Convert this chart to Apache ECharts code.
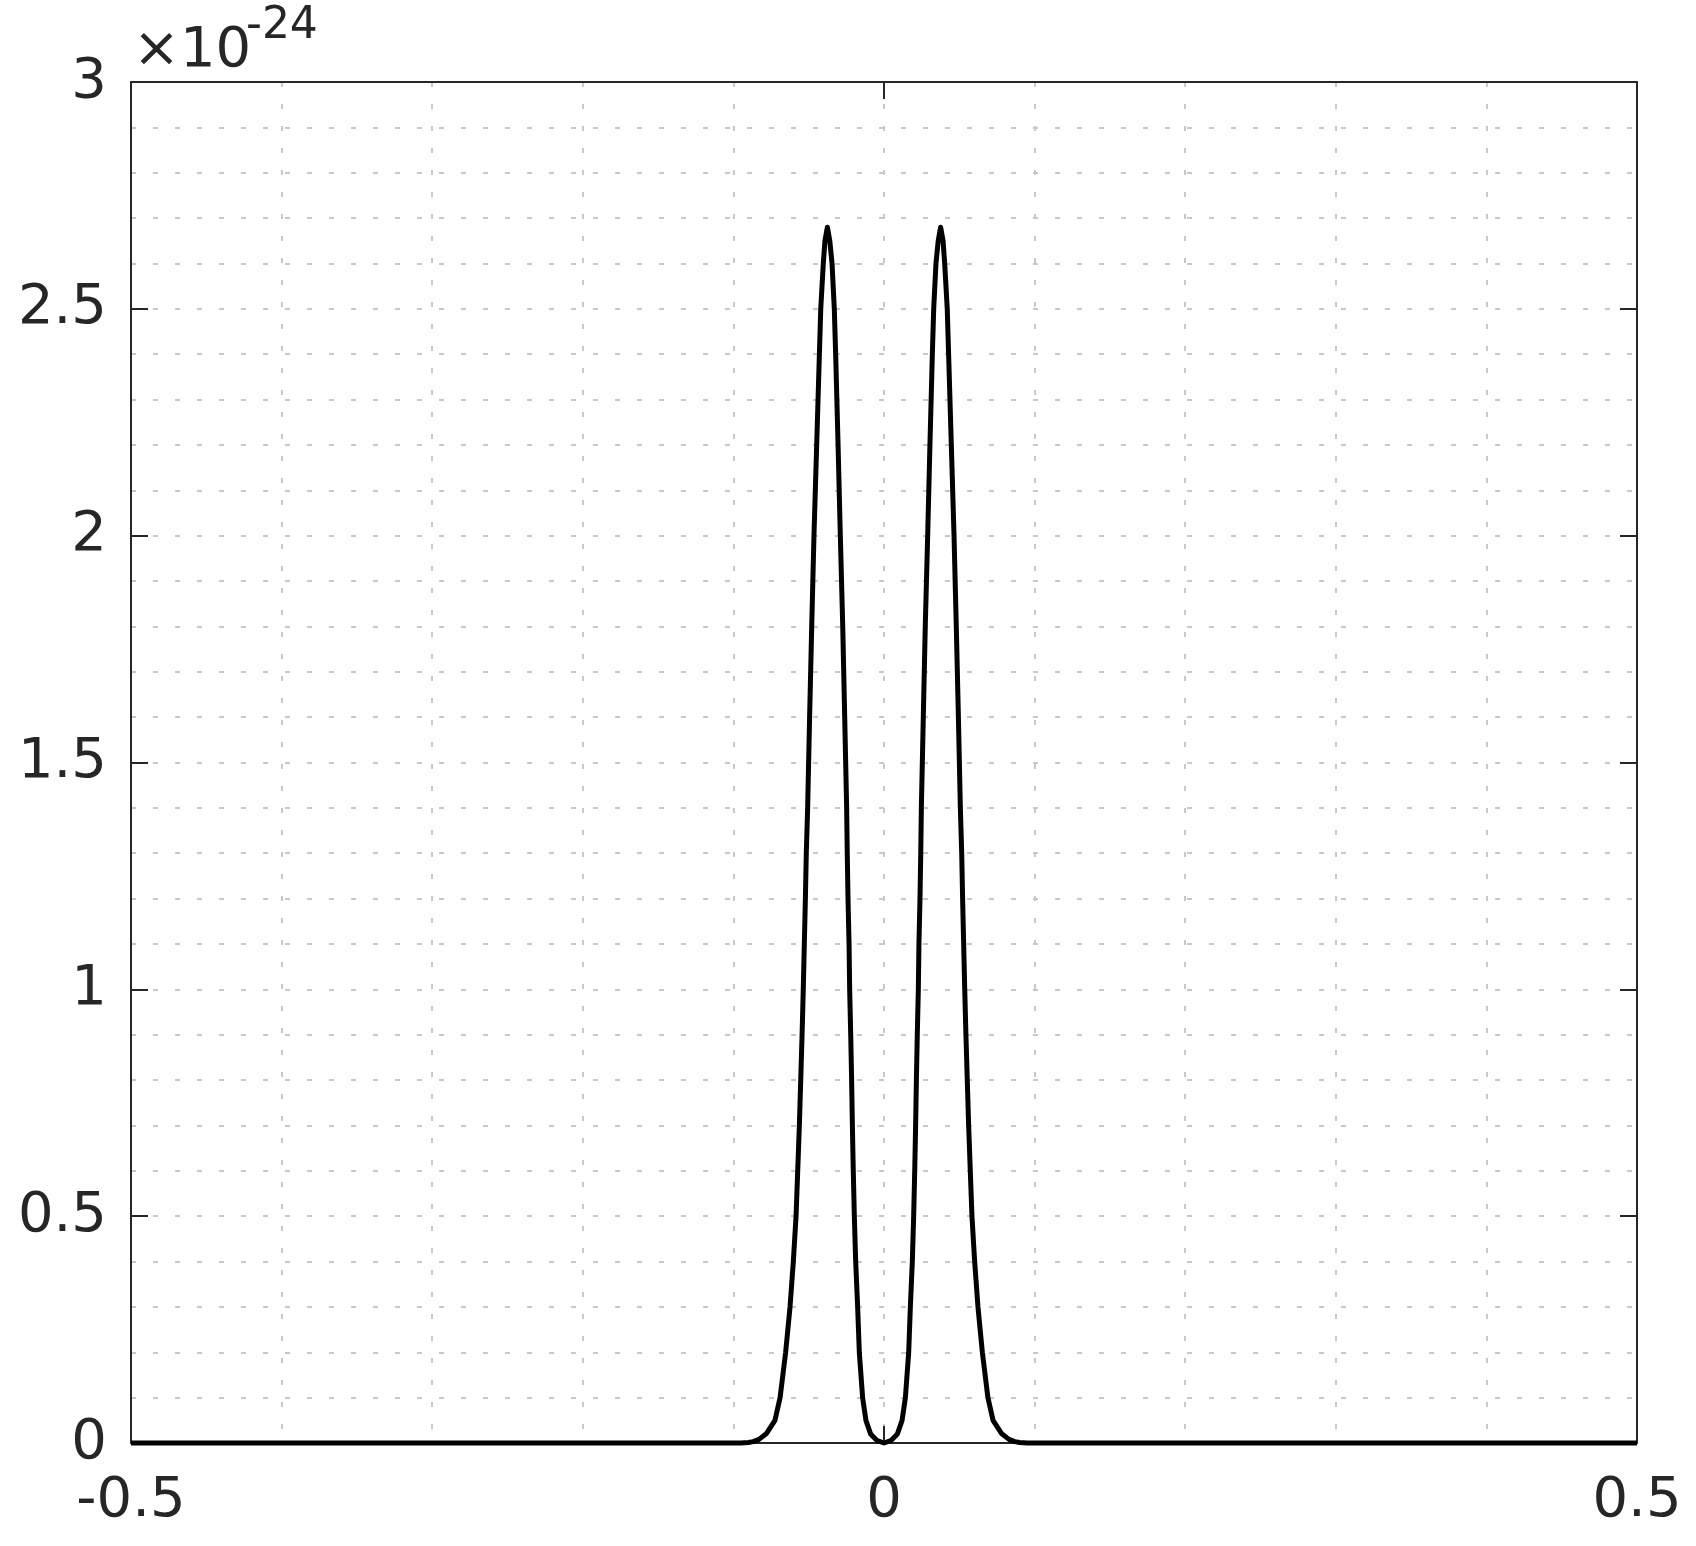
<!DOCTYPE html>
<html>
<head>
<meta charset="utf-8">
<script src="https://cdn.jsdelivr.net/npm/echarts@6/dist/echarts.min.js"></script>
<style>
  html, body { margin: 0; padding: 0; background: #fff; }
  #chart { width: 1696px; height: 1546px; }
</style>
</head>
<body>
<div id="chart"></div>
<script>
// curve, y in units of 1e-24
var curveX = [
  -0.5, -0.095, -0.09, -0.0868, -0.083, -0.078, -0.0724, -0.069, -0.0653, -0.0624, -0.0602,
  -0.0584, -0.0573, -0.0562, -0.0553, -0.0544, -0.0536, -0.0529, -0.0522, -0.0516,
  -0.0507, -0.0494, -0.048, -0.0465, -0.0447, -0.0429, -0.042, -0.0403, -0.0392,
  -0.0376,
  -0.036, -0.0345, -0.033, -0.0321, -0.0305, -0.029, -0.0274, -0.0261, -0.0248,
  -0.0244, -0.0239, -0.0232, -0.0228, -0.0221, -0.0215, -0.021, -0.0204, -0.0197,
  -0.0188, -0.0175, -0.0164, -0.0142, -0.012, -0.0089, -0.0045,
  0,
  0.0045, 0.0089, 0.012, 0.0142, 0.0164, 0.0175, 0.0188,
  0.0197, 0.0204, 0.021, 0.0215, 0.0221, 0.0228, 0.0232, 0.0239, 0.0244,
  0.0248, 0.0261, 0.0274, 0.029, 0.0305, 0.0321, 0.033, 0.0345, 0.036,
  0.0376,
  0.0392, 0.0403, 0.042, 0.0429, 0.0447, 0.0465, 0.048, 0.0494, 0.0507,
  0.0516, 0.0522, 0.0529, 0.0536, 0.0544, 0.0553, 0.0562, 0.0573, 0.0584,
  0.0602, 0.0624, 0.0653, 0.069, 0.0724, 0.078, 0.083, 0.0868, 0.09, 0.095, 0.5
];
var curveY = [
  0, 0, 0.001, 0.003, 0.008, 0.021, 0.05, 0.1, 0.2, 0.3, 0.4,
  0.5, 0.6, 0.7, 0.8, 0.9, 1.0, 1.1, 1.2, 1.3,
  1.4, 1.6, 1.8, 2.0, 2.2, 2.4, 2.5, 2.6, 2.65,
  2.68,
  2.65, 2.6, 2.5, 2.4, 2.2, 2.0, 1.8, 1.6, 1.4,
  1.3, 1.2, 1.1, 1.0, 0.9, 0.8, 0.7, 0.6, 0.5,
  0.4, 0.3, 0.2, 0.1, 0.05, 0.02, 0.005,
  0,
  0.005, 0.02, 0.05, 0.1, 0.2, 0.3, 0.4,
  0.5, 0.6, 0.7, 0.8, 0.9, 1.0, 1.1, 1.2, 1.3,
  1.4, 1.6, 1.8, 2.0, 2.2, 2.4, 2.5, 2.6, 2.65,
  2.68,
  2.65, 2.6, 2.5, 2.4, 2.2, 2.0, 1.8, 1.6, 1.4,
  1.3, 1.2, 1.1, 1.0, 0.9, 0.8, 0.7, 0.6, 0.5,
  0.4, 0.3, 0.2, 0.1, 0.05, 0.021, 0.008, 0.003, 0.001, 0, 0
];
var xRange = [-0.5, 0.5];
var yRange = [0, 3];
var exponentText = "-24";

var curveData = curveX.map(function (x, i) {
  return [x, curveY[i]];
});

var axisColor = "#262626";
var gridStyle = { color: "#c8c8c8", width: 2, type: [5, 17] };
var font = "DejaVu Sans";

var chart = echarts.init(document.getElementById("chart"));
chart.setOption({
  animation: false,
  backgroundColor: "#fff",
  grid: { left: 131, top: 82, width: 1506, height: 1361 },
  xAxis: [
    {
      type: "value",
      min: xRange[0], max: xRange[1], interval: 0.5,
      axisLine: { show: true, onZero: false, lineStyle: { color: axisColor, width: 2 } },
      axisTick: { show: true, inside: true, length: 17, lineStyle: { color: axisColor, width: 2 } },
      axisLabel: { color: axisColor, fontSize: 56, fontFamily: font, margin: 30 },
      splitLine: { show: true, lineStyle: gridStyle },
      minorTick: { show: false, splitNumber: 5 },
      minorSplitLine: { show: true, lineStyle: gridStyle }
    },
    {
      type: "value", position: "top",
      min: xRange[0], max: xRange[1], interval: 0.5,
      axisLine: { show: true, onZero: false, lineStyle: { color: axisColor, width: 2 } },
      axisTick: { show: true, inside: true, length: 17, lineStyle: { color: axisColor, width: 2 } },
      axisLabel: { show: false },
      splitLine: { show: false }
    }
  ],
  yAxis: [
    {
      type: "value",
      min: yRange[0], max: yRange[1], interval: 0.5,
      axisLine: { show: true, onZero: false, lineStyle: { color: axisColor, width: 2 } },
      axisTick: { show: true, inside: true, length: 17, lineStyle: { color: axisColor, width: 2 } },
      axisLabel: { color: axisColor, fontSize: 56, fontFamily: font, margin: 24 },
      splitLine: { show: true, lineStyle: gridStyle },
      minorTick: { show: false, splitNumber: 5 },
      minorSplitLine: { show: true, lineStyle: gridStyle }
    },
    {
      type: "value", position: "right",
      min: yRange[0], max: yRange[1], interval: 0.5,
      axisLine: { show: true, onZero: false, lineStyle: { color: axisColor, width: 2 } },
      axisTick: { show: true, inside: true, length: 17, lineStyle: { color: axisColor, width: 2 } },
      axisLabel: { show: false },
      splitLine: { show: false }
    }
  ],
  graphic: [
    {
      type: "text", left: 133, top: 23,
      style: { text: "×10", fill: axisColor, font: "56px " + font }
    },
    {
      type: "text", left: 246, top: 5,
      style: { text: exponentText, fill: axisColor, font: "44px " + font }
    }
  ],
  series: [
    {
      type: "line",
      data: curveData,
      showSymbol: false,
      clip: false,
      lineStyle: { color: "#000", width: 5, join: "round" },
      z: 5
    }
  ]
});
</script>
</body>
</html>
